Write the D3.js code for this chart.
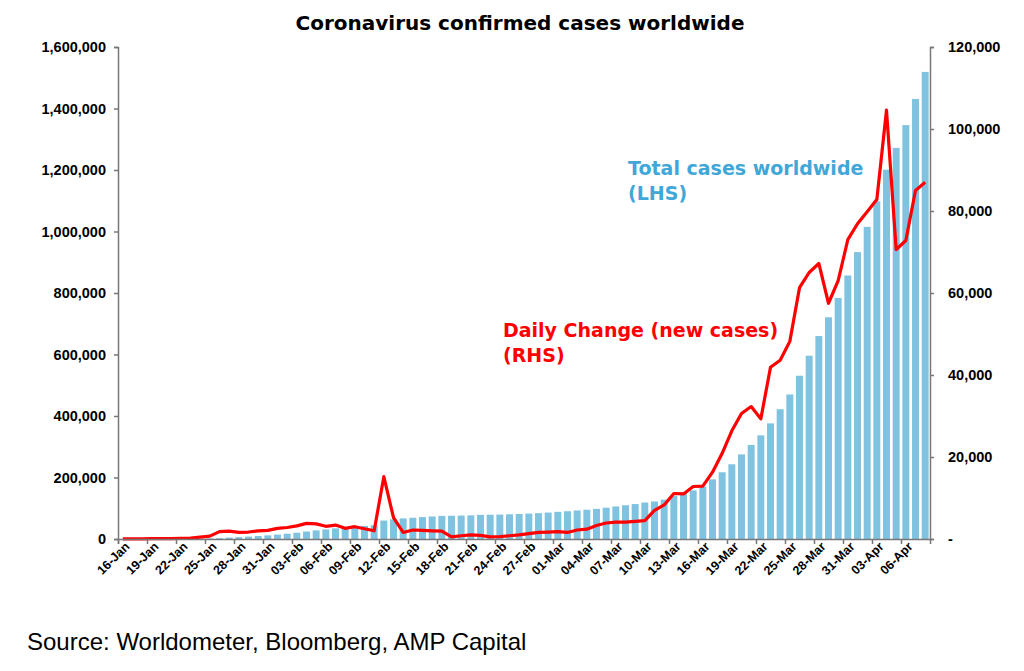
<!DOCTYPE html>
<html><head><meta charset="utf-8">
<script src="https://cdn.jsdelivr.net/npm/d3@7"></script>
<style>
body{margin:0;background:#fff;font-family:"Liberation Sans",Arial,sans-serif;}
.tick text{font-weight:bold;font-size:14.5px;fill:#000;}
.wide{font-family:"DejaVu Sans",Verdana,sans-serif;font-weight:bold;}
</style></head>
<body><div id="chart"></div>
<script>
// categories: 16-Jan .. 08-Apr
var dates = [];
for (var d = 0; d < 84; d++) dates.push(new Date(2020, 0, 16 + d));

// total cases worldwide (LHS)
var total_cases = [45,62,121,198,291,440,571,830,1287,1975,2744,4515,5974,7711,9692,11791,
  14380,17205,20440,24324,28018,31161,34546,37198,40171,42638,44653,60000,64000,67000,69000,71200,
  73200,75100,75600,76200,76800,78500,78900,79500,80400,81300,82700,84100,86000,
  88300,90300,92800,95100,97900,101800,105800,109800,113600,118600,122000,128000,140000,150000,158000,
  170000,194000,217000,243000,275000,306000,337000,376000,422000,470000,531000,596000,660000,721000,
  784000,857000,933000,1015000,1098000,1201000,1272000,1346000,1431000,1519000];

// daily change (RHS), thousands
var daily_k = [0.05,0.05,0.05,0.1,0.1,0.1,0.15,0.25,0.45,0.7,1.8,1.9,1.6,1.7,2.0,2.1,
  2.6,2.8,3.2,3.8,3.7,3.1,3.4,2.6,3.0,2.5,2.0,15.2,5.2,1.6,2.2,2.1,2.0,1.9,0.5,0.8,1.0,0.9,0.5,0.6,0.8,1.0,
  1.3,1.6,1.7,1.8,1.6,2.2,2.4,3.3,3.9,4.1,4.1,4.3,4.5,7.0,8.3,11.1,11.0,12.8,12.9,16.3,20.9,26.4,30.6,32.3,29.3,
  41.9,43.6,48.2,61.3,65.0,67.2,57.5,63.0,73.0,76.9,79.8,82.8,104.6,70.6,72.8,85.0,87.0];

var left_ticks = [0,200000,400000,600000,800000,1000000,1200000,1400000,1600000];
var right_ticks = [0,20000,40000,60000,80000,100000,120000];

var W = 1024, H = 671;
var margin = {left:118, right:94, top:47, bottom:132};
var width = W - margin.left - margin.right, height = H - margin.top - margin.bottom;

var svg = d3.select("#chart").append("svg").attr("width", W).attr("height", H);
var g = svg.append("g").attr("transform", "translate(" + margin.left + "," + margin.top + ")");

var x = d3.scaleBand().domain(dates.map(function(d, i){ return i; })).range([0, width]).paddingInner(0.28).paddingOuter(0.14);
var yL = d3.scaleLinear().domain([0, 1600000]).range([height, 0]);
var yR = d3.scaleLinear().domain([0, 120000]).range([height, 0]);

svg.append("text").attr("class", "wide").attr("x", 520).attr("y", 30).attr("text-anchor", "middle")
  .style("font-size", "20px").text("Coronavirus confirmed cases worldwide");

g.selectAll(".bar").data(total_cases).enter().append("rect")
  .attr("x", function(d, i){ return x(i); })
  .attr("y", function(d){ return yL(d); })
  .attr("width", x.bandwidth())
  .attr("height", function(d){ return height - yL(d); })
  .attr("fill", "#7fc3e0");

var line = d3.line().x(function(d, i){ return x(i) + x.bandwidth() / 2; }).y(function(d){ return yR(d * 1000); });
g.append("path").datum(daily_k).attr("d", line).attr("fill", "none")
  .attr("stroke", "#ff0000").attr("stroke-width", 3.2).attr("stroke-linejoin", "round");

var fmt = d3.format(",");
var axL = g.append("g").call(d3.axisLeft(yL).tickValues(left_ticks).tickFormat(fmt).tickSize(4).tickPadding(8));
var axR = g.append("g").attr("transform", "translate(" + width + ",0)")
  .call(d3.axisRight(yR).tickValues(right_ticks).tickFormat(function(d){ return d === 0 ? "-" : fmt(d); }).tickSize(4).tickPadding(14));

var fmtDate = d3.timeFormat("%d-%b");
var xs = d3.scaleLinear().domain([0, dates.length]).range([0, width]);
var axB = g.append("g").attr("transform", "translate(0," + height + ")")
  .call(d3.axisBottom(xs).tickValues(d3.range(0, dates.length, 3)).tickFormat(function(i){ return fmtDate(dates[i]); }).tickSize(5));
axB.selectAll("text").attr("text-anchor", "end").attr("dx", "0.2em").attr("dy", "0.5em")
  .attr("transform", "rotate(-45)").style("font-size", "12.5px");

[axL, axR, axB].forEach(function(a){ a.selectAll("path,line").attr("stroke", "#777").attr("stroke-width", 1.5); });

svg.append("text").attr("class", "wide").attr("x", 628).attr("y", 175).attr("fill", "#41a7d9").style("font-size", "19px").text("Total cases worldwide");
svg.append("text").attr("class", "wide").attr("x", 628).attr("y", 200).attr("fill", "#41a7d9").style("font-size", "19px").text("(LHS)");
svg.append("text").attr("class", "wide").attr("x", 503).attr("y", 337).attr("fill", "#ff0000").style("font-size", "19px").text("Daily Change (new cases)");
svg.append("text").attr("class", "wide").attr("x", 503).attr("y", 362).attr("fill", "#ff0000").style("font-size", "19px").text("(RHS)");

svg.append("text").attr("x", 27).attr("y", 650).style("font-size", "24px").text("Source: Worldometer, Bloomberg, AMP Capital");
</script></body></html>
